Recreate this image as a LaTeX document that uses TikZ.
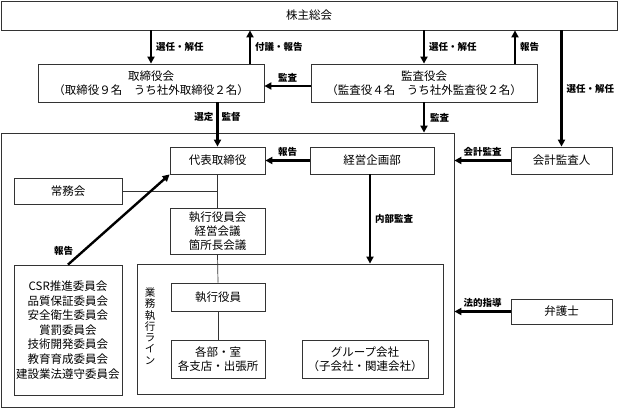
\documentclass[tikz,border=0pt]{standalone}
\usepackage{fontspec}
\setmainfont{Noto Sans CJK JP}
\usetikzlibrary{arrows.meta,calc}
\newcommand\jpbox{\fontsize{11.5}{14}\selectfont}
\newcommand\jplab{\fontsize{9.5}{11}\selectfont\bfseries}
\newcommand\jpvert{\fontsize{10.5}{11.3}\selectfont}
\begin{document}
\begin{tikzpicture}[x=1pt,y=-1pt,
  box/.style={draw=black!80, line width=0.8pt, fill=white, inner sep=0pt, align=center, font=\jpbox},
  arr/.style={line width=2.4pt, -{Triangle[length=7pt,width=7pt]}},
  thinline/.style={line width=0.7pt, draw=black!80},
  lab/.style={font=\jplab, inner sep=1pt}]
\useasboundingbox[fill=white] (0,0) rectangle (621,410);

% outer frame
\node[box, minimum width=453pt, minimum height=274pt] (outer) at (227.5,270) {};

% nodes
\node[box, minimum width=616pt, minimum height=29pt] (kab) at (309,15.5) {株主総会};
\node[box, minimum width=226pt, minimum height=38pt] (tor) at (151,83) {取締役会\\（取締役９名　うち社外取締役２名）};
\node[box, minimum width=226pt, minimum height=38pt] (kan) at (424,83) {監査役会\\（監査役４名　うち社外監査役２名）};
\node[box, minimum width=95pt, minimum height=27pt] (dai) at (217.5,160.5) {代表取締役};
\node[box, minimum width=124pt, minimum height=27pt] (kei) at (372,160.5) {経営企画部};
\node[box, minimum width=101pt, minimum height=27pt] (kai) at (561.5,160.5) {会計監査人};
\node[box, minimum width=108pt, minimum height=26pt] (jom) at (68,191) {常務会};
\node[box, minimum width=95pt, minimum height=46pt] (shk) at (217.5,231) {執行役員会\\経営会議\\箇所長会議};
\node[box, minimum width=108pt, minimum height=130pt, font=\fontsize{11.5}{14.6}\selectfont] (csr) at (68,330) {CSR推進委員会\\品質保証委員会\\安全衛生委員会\\賞罰委員会\\技術開発委員会\\教育育成委員会\\建設業法遵守委員会};
\node[box, minimum width=306pt, minimum height=130pt] (gyo) at (290,329) {};
\node[align=center, inner sep=0pt, font=\jpvert] (gyolab) at (150,326) {業\\務\\執\\行\\ラ\\イ\\ン};
\node[box, minimum width=94pt, minimum height=28pt] (yak) at (218,297) {執行役員};
\node[box, minimum width=94pt, minimum height=38pt] (kak) at (218,359) {各部・室\\各支店・出張所};
\node[box, minimum width=126pt, minimum height=38pt] (grp) at (365,359) {グループ会社\\（子会社・関連会社）};
\node[box, minimum width=101pt, minimum height=25pt] (ben) at (561.5,311.5) {弁護士};

% thin connectors
\draw[thinline] (jom.east) -- (jom.east -| dai.south);
\draw[thinline] (dai.south) -- (shk.north);
\draw[thinline] (shk.south) -- (yak.north);
\draw[thinline] (yak.south) -- (kak.north);

% thick arrows
\draw[arr] (kab.south -| tor.north) -- node[lab, right=3pt] {選任・解任} (tor.north);
\draw[arr] ([xshift=99pt]tor.north) -- node[lab, right=3pt] {付議・報告} ([xshift=99pt]tor.north |- kab.south);
\draw[arr] (kab.south -| kan.north) -- node[lab, right=3pt] {選任・解任} (kan.north);
\draw[arr] ([xshift=91pt]kan.north) -- node[lab, right=3pt] {報告} ([xshift=91pt]kan.north |- kab.south);
\draw[arr] (kab.south -| kai.north) -- node[lab, right=3pt] {選任・解任} (kai.north);
\draw[arr] ([yshift=-3pt]kan.west) -- node[lab, above=2pt] {監査} ([yshift=-3pt]tor.east);
\draw[arr] (dai.north |- tor.south) -- node[lab, pos=.33, left=2pt] {選定} node[lab, pos=.33, right=2pt] {監督} (dai.north);
\draw[arr] (kan.south) -- node[lab, right=4pt] {監査} (kan.south |- outer.north);
\draw[arr] (kei.west) -- node[lab, above=2pt] {報告} (dai.east);
\draw[arr] (kai.west) -- node[lab, above=2pt] {会計監査} (kai.west -| outer.east);
\draw[arr] (ben.west) -- node[lab, above=2pt] {法的指導} (ben.west -| outer.east);
\draw[arr] ([xshift=-2pt]kei.south) -- node[lab, right=3pt] {内部監査} ([xshift=-2pt]kei.south |- gyo.north);
\draw[arr] (csr.north) -- node[lab, pos=.15, left=8pt] {報告} (dai.south west);
\end{tikzpicture}
\end{document}
